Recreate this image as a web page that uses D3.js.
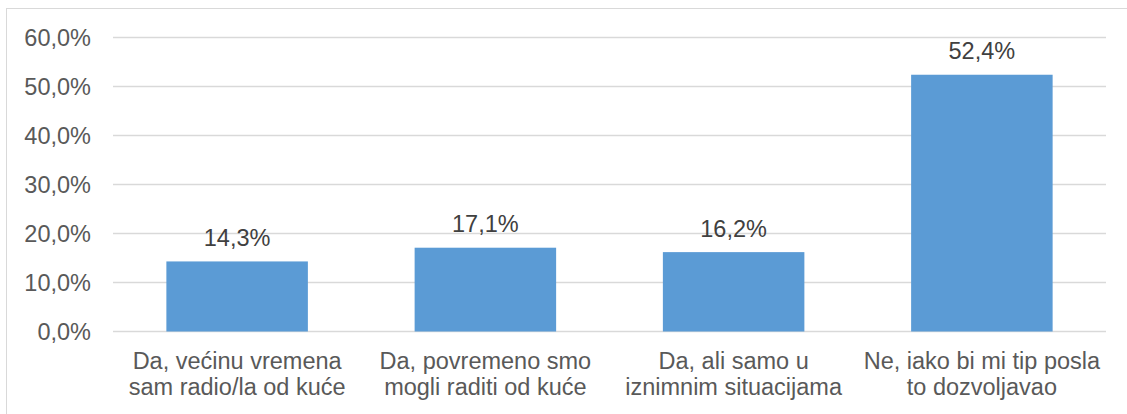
<!DOCTYPE html>
<html>
<head>
<meta charset="utf-8">
<script src="https://cdn.jsdelivr.net/npm/d3@7"></script>
<style>
  body { margin: 0; background: #fff; }
  text { font-family: "Liberation Sans", Arial, sans-serif; }
</style>
</head>
<body>
<div class="chart"></div>
<script>
// categories split into the two lines shown under each bar
var categories = [
  ["Da, većinu vremena", "sam radio/la od kuće"],
  ["Da, povremeno smo", "mogli raditi od kuće"],
  ["Da, ali samo u", "iznimnim situacijama"],
  ["Ne, iako bi mi tip posla", "to dozvoljavao"]
]
var values = [14.3, 17.1, 16.2, 52.4]
var yTicks = [0, 10, 20, 30, 40, 50, 60]

var fmt = function(v, digits){ return v.toFixed(digits).replace(".", ",") + "%" }

var svg = d3.select(".chart").append("svg")
  .attr("width", 1127)
  .attr("height", 414)

// outer chart border (runs off the right/bottom)
svg.append("rect")
  .attr("x", 6.5).attr("y", 8.5)
  .attr("width", 1140).attr("height", 420)
  .attr("fill", "none")
  .attr("stroke", "#d9d9d9")

var plotL = 113, plotR = 1106, plotT = 37.5, plotB = 331.5
var fontSize = "23.5px"

var x = d3.scaleBand()
  .domain(d3.range(categories.length))
  .range([plotL, plotR])
  .paddingInner(0.43)
  .paddingOuter(0.215)

var y = d3.scaleLinear()
  .domain([0, 60])
  .range([plotB, plotT])

// gridlines
svg.selectAll(".grid")
  .data(yTicks).enter().append("line")
    .attr("class", "grid")
    .attr("x1", plotL).attr("x2", plotR)
    .attr("y1", function(d){ return y(d) })
    .attr("y2", function(d){ return y(d) })
    .attr("stroke", "#d9d9d9")
    .attr("stroke-width", 1.3)

// y tick labels
svg.selectAll(".ylab")
  .data(yTicks).enter().append("text")
    .attr("class", "ylab")
    .attr("x", 91)
    .attr("y", function(d){ return y(d) })
    .attr("dy", "0.35em")
    .attr("text-anchor", "end")
    .attr("font-size", fontSize)
    .attr("fill", "#595959")
    .text(function(d){ return fmt(d, 1) })

// bars
svg.selectAll(".bar")
  .data(values).enter().append("rect")
    .attr("class", "bar")
    .attr("x", function(d, i){ return x(i) })
    .attr("width", x.bandwidth())
    .attr("y", function(d){ return y(d) })
    .attr("height", function(d){ return plotB - y(d) })
    .attr("fill", "#5b9bd5")

// data labels
svg.selectAll(".vlab")
  .data(values).enter().append("text")
    .attr("class", "vlab")
    .attr("x", function(d, i){ return x(i) + x.bandwidth() / 2 })
    .attr("y", function(d){ return y(d) - 15.5 })
    .attr("text-anchor", "middle")
    .attr("font-size", fontSize)
    .attr("fill", "#404040")
    .text(function(d){ return fmt(d, 1) })

// category labels
var cat = svg.selectAll(".xlab")
  .data(categories).enter().append("text")
    .attr("class", "xlab")
    .attr("x", function(d, i){ return x(i) + x.bandwidth() / 2 })
    .attr("y", 368.5)
    .attr("text-anchor", "middle")
    .attr("font-size", fontSize)
    .attr("fill", "#595959")

cat.selectAll("tspan")
  .data(function(d){ return d }).enter().append("tspan")
    .attr("x", function(){ return d3.select(this.parentNode).attr("x") })
    .attr("dy", function(d, i){ return i ? 26.7 : 0 })
    .text(function(d){ return d })
</script>
</body>
</html>
